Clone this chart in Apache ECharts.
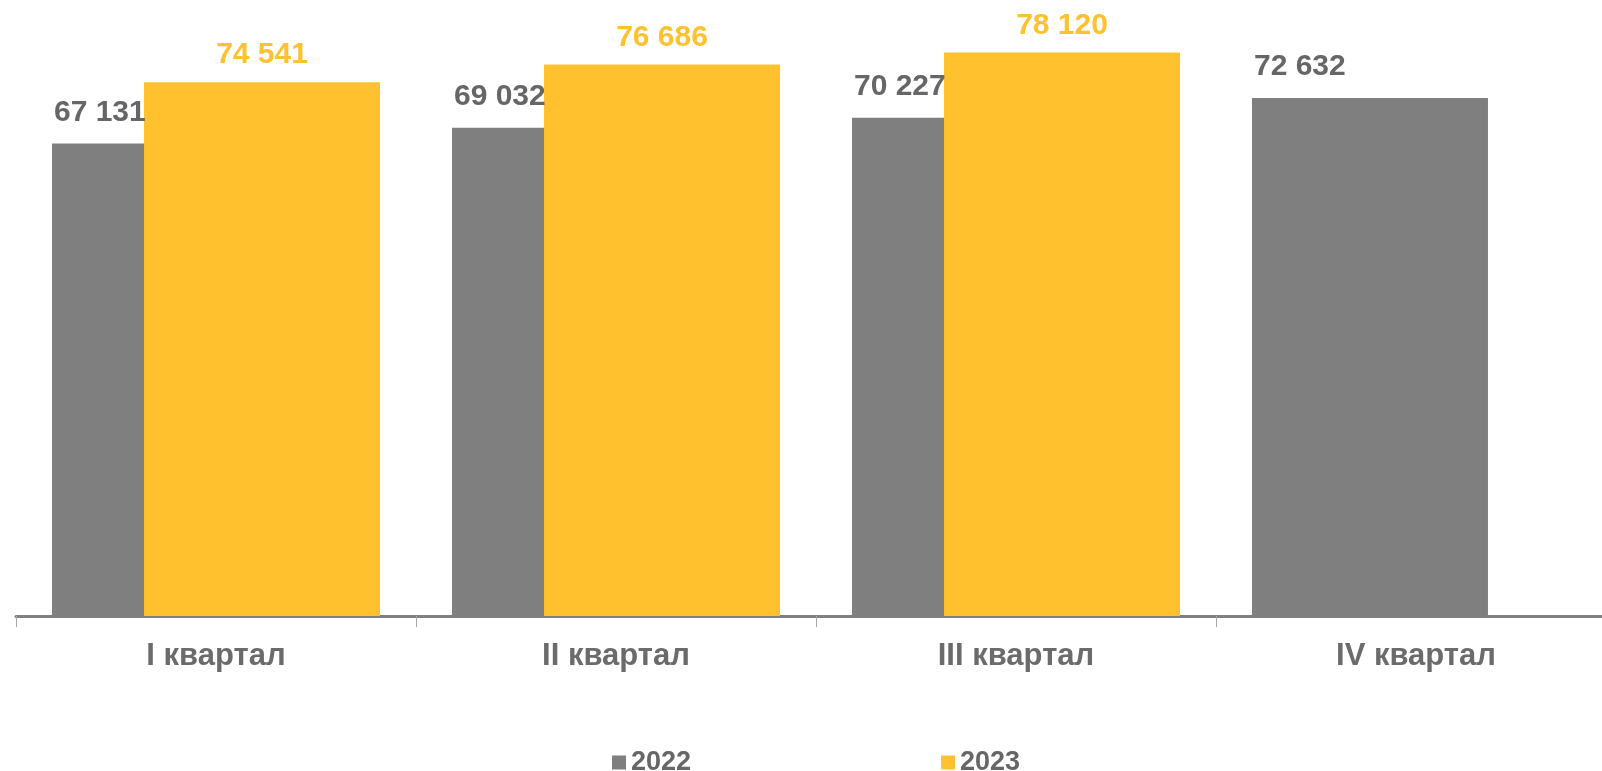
<!DOCTYPE html>
<html>
<head>
<meta charset="utf-8">
<script src="https://cdn.jsdelivr.net/npm/echarts@6/dist/echarts.min.js"></script>
<style>
    html,body{margin:0;padding:0;background:#fff;overflow:hidden;}
    /* ось в оригинале уходит за правый край картинки */
    #chart{width:1616px;height:771px;}
</style>
</head>
<body>
<div id="chart"></div>
<script>
    // данные
    var categories = ['I квартал', 'II квартал', 'III квартал', 'IV квартал'];
    var values2022 = [67131, 69032, 70227, 72632];
    var values2023 = [74541, 76686, 78120, null];
    var seriesNames = ['2022', '2023'];

    var colorGray = '#7f7f7f';
    var colorYellow = '#ffc22e';
    var font = '"Liberation Sans", Arial, sans-serif';

    function fmt(v) {
        return String(v).replace(/\B(?=(\d{3})+(?!\d))/g, ' ');
    }

    var myChart = echarts.init(document.getElementById('chart'));
    var option = {
        animation: false,
        grid: {left: 16, right: 0, top: 37, bottom: 155},
        legend: {
            left: 607,
            top: 744,
            itemWidth: 14,
            itemHeight: 14,
            itemGap: 250,
            icon: 'rect',
            textStyle: {color: '#666666', fontSize: 27, fontWeight: 'bold', fontFamily: font},
            data: seriesNames
        },
        xAxis: {
            type: 'category',
            data: categories,
            axisLine: {lineStyle: {color: '#808080', width: 3}},
            axisTick: {show: true, length: 11, lineStyle: {color: '#a6a6a6', width: 1}},
            axisLabel: {
                margin: 25,
                color: '#6b6b6b',
                fontSize: 31,
                fontWeight: 'bold',
                fontFamily: font
            }
        },
        yAxis: {
            type: 'value',
            min: 10000,
            max: 80000,
            show: false,
            splitLine: {show: false}
        },
        series: [
            {
                name: seriesNames[0],
                type: 'bar',
                barWidth: 236,
                barGap: '-61%',
                itemStyle: {color: colorGray},
                label: {
                    show: true,
                    position: [2, -16],
                    align: 'left',
                    verticalAlign: 'bottom',
                    color: '#666666',
                    fontSize: 30,
                    fontWeight: 'bold',
                    fontFamily: font,
                    formatter: function (p) { return fmt(p.value); }
                },
                data: values2022
            },
            {
                name: seriesNames[1],
                type: 'bar',
                barWidth: 236,
                barGap: '-61%',
                itemStyle: {color: colorYellow},
                label: {
                    show: true,
                    position: 'top',
                    distance: 12,
                    color: colorYellow,
                    fontSize: 30,
                    fontWeight: 'bold',
                    fontFamily: font,
                    formatter: function (p) { return fmt(p.value); }
                },
                data: values2023
            }
        ]
    };
    myChart.setOption(option);
</script>
</body>
</html>
